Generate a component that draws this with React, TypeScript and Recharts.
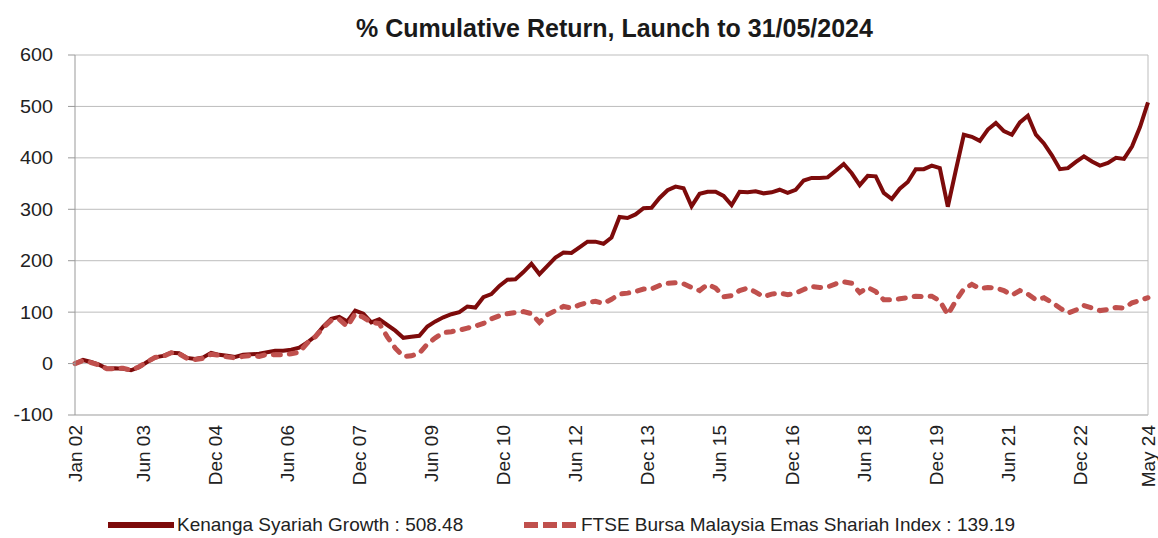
import React from "react";
import {
  LineChart,
  Line,
  XAxis,
  YAxis,
  CartesianGrid,
  Legend,
  ReferenceLine,
} from "recharts";

// month index from Jan 02, one point every two months up to May 24 (index 268)
const months = Array.from({ length: 135 }, (_, i) => i * 2);

const fund = [
  0, 7, 3, -2, -10, -9, -10, -13, -7, 3,
  12, 15, 21, 20, 11, 9, 12, 21, 17, 15,
  13, 17, 18, 19, 22, 25, 25, 27, 31, 41,
  53, 72, 87, 91, 82, 103, 97, 80, 86, 75,
  64, 50, 52, 54, 72, 82, 90, 96, 100, 111,
  109, 129, 135, 151, 163, 164, 178, 194, 174, 190,
  206, 216, 215, 226, 237, 237, 233, 245, 285, 283,
  290, 302, 303, 322, 337, 344, 341, 306, 330, 334,
  334, 326, 308, 334, 333, 335, 331, 333, 338, 332,
  338, 356, 361, 361, 362, 375, 388, 370, 347, 365,
  364, 332, 320, 340, 353, 378, 378, 385, 380, 305,
  376, 445, 441, 433, 455, 468, 452, 445, 469, 482,
  445, 428, 405, 378, 380, 392, 403, 393, 385, 390,
  400, 398, 422, 460, 508,
];

const benchmark = [
  0, 6, 2, -3, -10, -10, -9, -13, -6, 3,
  12, 14, 21, 19, 10, 8, 10, 18, 16, 13,
  11, 14, 16, 14, 18, 17, 17, 19, 22, 40,
  52, 70, 84, 86, 72, 97, 90, 80, 78, 52,
  30, 14, 15, 20, 38, 50, 60, 62, 65, 69,
  73, 78, 87, 93, 97, 99, 101, 97, 80, 95,
  103, 111, 108, 114, 119, 121, 117, 125, 135, 137,
  140, 145, 145, 152, 156, 157, 155, 148, 142, 154,
  147, 130, 132, 142, 147, 139, 130, 135, 137, 134,
  137, 144, 150, 148, 149, 155, 159, 156, 138, 148,
  140, 124, 124, 126, 128, 131, 130, 131, 122, 95,
  122, 145, 154, 146, 148, 147, 142, 133, 142, 135,
  124, 128, 119, 108, 98, 104, 113, 108, 103, 105,
  109, 108, 118, 123, 128,
];

const tickMonths = [0, 17, 35, 53, 71, 89, 107, 125, 143, 161, 179, 197, 215, 233, 251, 268];
const tickLabels = [
  "Jan 02", "Jun 03", "Dec 04", "Jun 06", "Dec 07", "Jun 09", "Dec 10", "Jun 12",
  "Dec 13", "Jun 15", "Dec 16", "Jun 18", "Dec 19", "Jun 21", "Dec 22", "May 24",
];
const yTicks = [-100, 0, 100, 200, 300, 400, 500, 600];

const data = months.map((m, i) => ({ m, fund: fund[i], benchmark: benchmark[i] }));

const FONT = '"Liberation Sans", Arial, sans-serif';
const FUND_COLOR = "#7d0b0b";
const BENCH_COLOR = "#c0504d";
const GRID = "#bdbdbd";

const YTick = ({ x, y, payload }: any) => (
  <text
    x={0}
    y={0}
    transform={`translate(${x},${y}) scale(1.1,1)`}
    textAnchor="end"
    dy="0.36em"
    fontSize={18}
    fontFamily={FONT}
    fill="#222"
  >
    {payload.value}
  </text>
);

const XTick = ({ x, y, payload }: any) => {
  const idx = tickMonths.indexOf(payload.value);
  return (
    <text
      x={0}
      y={0}
      transform={`translate(${x},${y}) rotate(-90)`}
      textAnchor="end"
      dy="0.36em"
      fontSize={19}
      fontFamily={FONT}
      fill="#222"
    >
      {tickLabels[idx]}
    </text>
  );
};

const renderLegend = () => (
  <div
    style={{
      position: "relative",
      width: 1158,
      height: 24,
      fontFamily: FONT,
      fontSize: 19,
      color: "#222",
    }}
  >
    <svg style={{ position: "absolute", left: 108, top: 9 }} width={66} height={6}>
      <line x1={0} y1={3} x2={66} y2={3} stroke={FUND_COLOR} strokeWidth={6} />
    </svg>
    <span style={{ position: "absolute", left: 177, top: 0, lineHeight: "24px", whiteSpace: "nowrap" }}>
      Kenanga Syariah Growth : 508.48
    </span>
    <svg style={{ position: "absolute", left: 524, top: 9 }} width={52} height={6}>
      <line x1={0} y1={3} x2={52} y2={3} stroke={BENCH_COLOR} strokeWidth={6} strokeDasharray="14 5" />
    </svg>
    <span style={{ position: "absolute", left: 581, top: 0, lineHeight: "24px", whiteSpace: "nowrap" }}>
      FTSE Bursa Malaysia Emas Shariah Index : 139.19
    </span>
  </div>
);

export default function App() {
  return (
    <div
      style={{
        position: "fixed",
        left: 0,
        top: 0,
        width: 1158,
        height: 538,
        overflow: "hidden",
        background: "#fff",
      }}
    >
      <div
        style={{
          position: "absolute",
          left: 0,
          top: 16,
          width: 1229,
          textAlign: "center",
          fontFamily: FONT,
          fontWeight: "bold",
          fontSize: 25,
          lineHeight: "25px",
          color: "#1a1a1a",
          zIndex: 2,
        }}
      >
        % Cumulative Return, Launch to 31/05/2024
      </div>
      <LineChart
        width={1158}
        height={550}
        data={data}
        margin={{ top: 55, right: 10, left: 0, bottom: 13 }}
      >
        <CartesianGrid vertical={false} stroke={GRID} />
        <XAxis
          dataKey="m"
          type="number"
          domain={[0, 268]}
          ticks={tickMonths}
          interval={0}
          tick={<XTick />}
          tickLine={false}
          tickSize={0}
          tickMargin={10}
          axisLine={{ stroke: GRID }}
          height={98}
        />
        <YAxis
          domain={[-100, 600]}
          ticks={yTicks}
          interval={0}
          width={75}
          tick={<YTick />}
          tickSize={7}
          tickMargin={15}
          tickLine={{ stroke: "#999" }}
          axisLine={{ stroke: "#999" }}
        />
        <ReferenceLine x={268} stroke={GRID} />
        <Legend
          verticalAlign="bottom"
          layout="horizontal"
          content={renderLegend}
          wrapperStyle={{ left: 0, width: 1158 }}
        />
        <Line
          type="linear"
          dataKey="fund"
          stroke={FUND_COLOR}
          strokeWidth={4}
          dot={false}
          isAnimationActive={false}
        />
        <Line
          type="linear"
          dataKey="benchmark"
          stroke={BENCH_COLOR}
          strokeWidth={5}
          strokeDasharray="7 9"
          strokeLinecap="round"
          dot={false}
          isAnimationActive={false}
        />
      </LineChart>
    </div>
  );
}
